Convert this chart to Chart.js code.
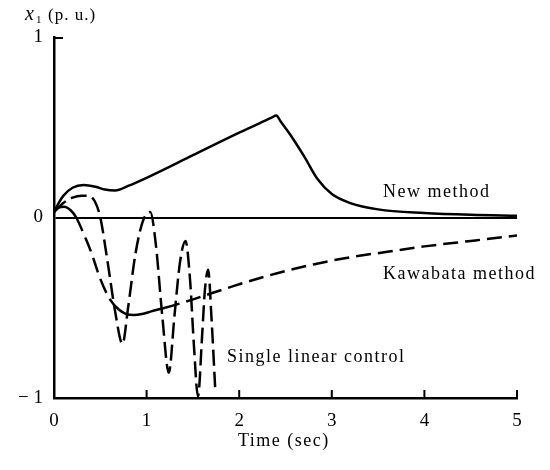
<!DOCTYPE html>
<html>
<head>
<meta charset="utf-8">
<script src="https://cdn.jsdelivr.net/npm/chart.js@4"></script>
<style>
  html, body { margin: 0; padding: 0; background: #fff; }
  #wrap { width: 550px; height: 470px; }
</style>
</head>
<body>
<div id="wrap"><canvas id="chart" width="550" height="470"></canvas></div>
<script>
// time axis (sec) and x1 (p.u.) for each control method
const newT = [0, 0.05, 0.1, 0.2, 0.32, 0.45, 0.55, 0.66, 0.8, 1.0, 1.5, 2.0, 2.35, 2.4, 2.45, 2.55, 2.7, 2.85, 3.0, 3.2, 3.5, 4.0, 4.5, 5.0];
const newX = [0.03, 0.08, 0.12, 0.165, 0.18, 0.17, 0.155, 0.15, 0.175, 0.22, 0.345, 0.47, 0.553, 0.565, 0.53, 0.46, 0.34, 0.21, 0.13, 0.08, 0.045, 0.025, 0.015, 0.01];

const kawT = [0, 0.05, 0.11, 0.18, 0.24, 0.32, 0.4, 0.5, 0.6, 0.7, 0.78, 0.86, 0.95, 1.05, 1.2, 1.4, 1.7, 2.0, 2.4, 2.8, 3.2, 3.6, 4.0, 4.5, 5.0];
const kawX = [0.03, 0.055, 0.06, 0.04, 0.0, -0.09, -0.19, -0.34, -0.45, -0.51, -0.535, -0.54, -0.535, -0.52, -0.5, -0.47, -0.42, -0.37, -0.31, -0.26, -0.22, -0.19, -0.16, -0.13, -0.1];

const linT = [0, 0.1, 0.2, 0.3, 0.37, 0.44, 0.5, 0.58, 0.66, 0.74, 0.8, 0.88, 0.96, 1.04, 1.1, 1.17, 1.24, 1.3, 1.36, 1.42, 1.47, 1.51, 1.555, 1.6, 1.63, 1.665, 1.7, 1.74];
const linX = [0.03, 0.08, 0.11, 0.12, 0.12, 0.09, 0.0, -0.25, -0.52, -0.7, -0.5, -0.2, -0.02, 0.03, -0.15, -0.55, -0.86, -0.55, -0.25, -0.13, -0.35, -0.7, -0.99, -0.65, -0.4, -0.29, -0.55, -0.94];

const xTicks = [0, 1, 2, 3, 4, 5];
const yTicks = [-1, 0, 1];

const pts = (t, v) => t.map((x, i) => ({x: x, y: v[i]}));
const serif = '"Liberation Serif", "Times New Roman", Times, serif';

// inward tick marks + text labels
const decor = {
  id: 'decor',
  afterDraw(chart) {
    const c = chart.ctx, xs = chart.scales.x, ys = chart.scales.y;
    const a = chart.chartArea;
    c.save();
    c.strokeStyle = '#000';
    c.lineWidth = 2;
    xTicks.slice(1).forEach(v => {
      const px = xs.getPixelForValue(v);
      c.beginPath(); c.moveTo(px, a.bottom); c.lineTo(px, a.bottom - 8); c.stroke();
    });
    const top = ys.getPixelForValue(1);
    c.beginPath(); c.moveTo(a.left, top + 1); c.lineTo(a.left + 9, top + 1); c.stroke();

    c.fillStyle = '#000';
    c.textBaseline = 'alphabetic';
    c.letterSpacing = '1.5px';
    c.font = '18px ' + serif;
    c.fillText('New method', 383, 197);
    c.fillText('Kawabata method', 383, 279);
    c.fillText('Single linear control', 227, 362);
    c.fillText('Time (sec)', 238, 446);

    // y-axis title
    c.letterSpacing = '0px';
    c.font = 'italic 20px ' + serif;
    c.fillText('x', 25, 20);
    c.font = '11px ' + serif;
    c.fillText('1', 36, 23);
    c.letterSpacing = '1px';
    c.font = '17px ' + serif;
    c.fillText('(p. u.)', 48, 20);
    c.restore();
  }
};

new Chart(document.getElementById('chart'), {
  type: 'line',
  data: {
    datasets: [
      {
        label: 'New method',
        data: pts(newT, newX),
        borderColor: '#000',
        borderWidth: 2.5,
        pointRadius: 0,
        cubicInterpolationMode: 'monotone'
      },
      {
        label: 'Kawabata method',
        data: pts(kawT, kawX),
        borderColor: '#000',
        borderWidth: 2.5,
        pointRadius: 0,
        borderDash: [],
        cubicInterpolationMode: 'monotone',
        segment: {
          borderDash: ctx => {
            const t = ctx.p0.parsed.x;
            return ((t >= 0.24 && t < 0.7) || t >= 1.2) ? [15, 7] : [];
          }
        }
      },
      {
        label: 'Single linear control',
        data: pts(linT, linX),
        borderColor: '#000',
        borderWidth: 2.5,
        pointRadius: 0,
        borderDash: [16, 6],
        cubicInterpolationMode: 'monotone'
      }
    ]
  },
  options: {
    responsive: false,
    animation: false,
    layout: {padding: {top: 37, right: 33, left: 0, bottom: 0}},
    plugins: {legend: {display: false}, tooltip: {enabled: false}},
    scales: {
      x: {
        type: 'linear',
        min: 0, max: 5,
        afterBuildTicks: s => { s.ticks = xTicks.map(v => ({value: v})); },
        afterFit: s => { s.height = 72; },
        grid: {display: false, drawTicks: false},
        border: {display: true, color: '#000', width: 2.5},
        ticks: {color: '#000', padding: 12, font: {family: serif, size: 19}}
      },
      y: {
        min: -1, max: 1,
        afterBuildTicks: s => { s.ticks = yTicks.map(v => ({value: v})); },
        afterFit: s => { s.width = 54; },
        grid: {
          drawTicks: false,
          color: c => c.tick && c.tick.value === 0 ? '#000' : 'rgba(0,0,0,0)',
          lineWidth: 2
        },
        border: {display: true, color: '#000', width: 2.5},
        ticks: {
          color: '#000', padding: 11,
          font: {family: serif, size: 19},
          callback: v => v === -1 ? '\u2212 1' : String(v)
        }
      }
    }
  },
  plugins: [decor]
});
</script>
</body>
</html>
